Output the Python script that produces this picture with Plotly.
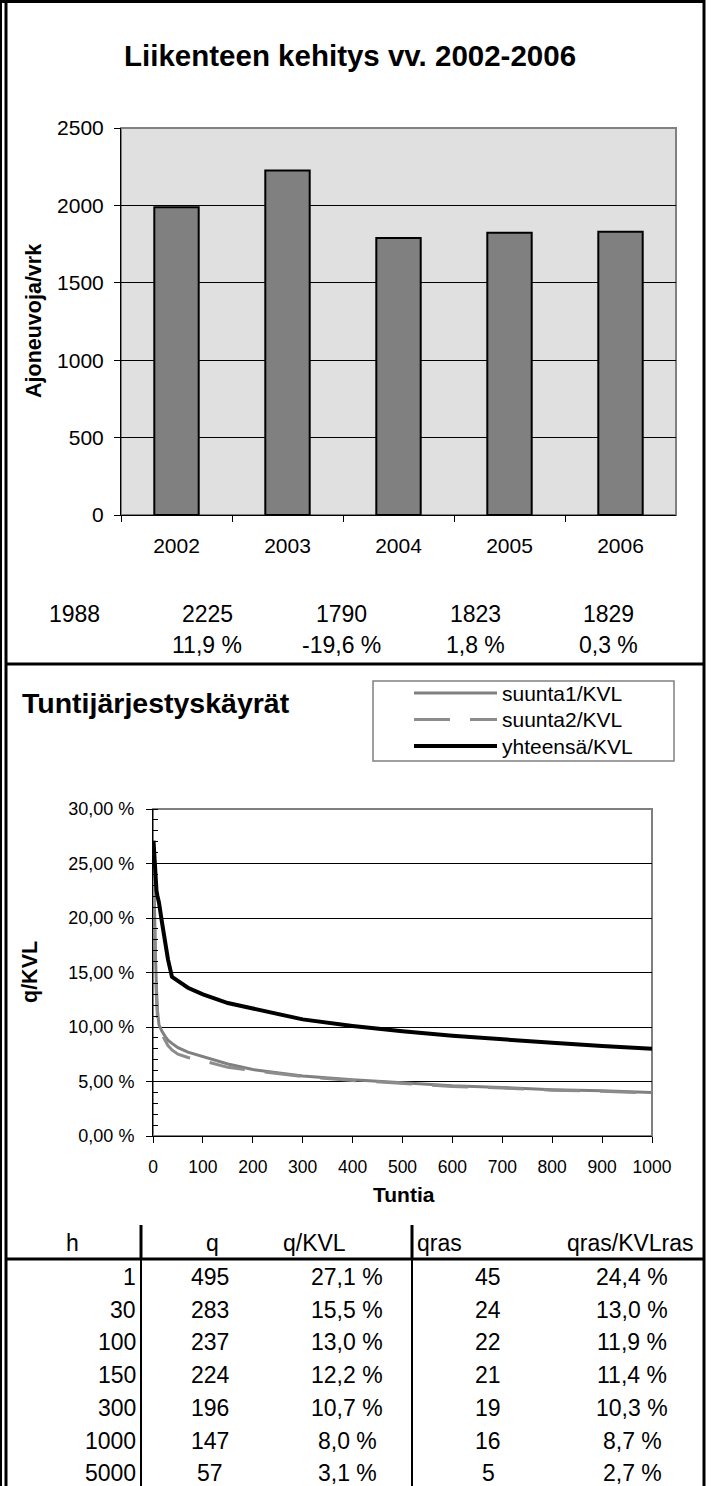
import plotly.graph_objects as go

W, H = 714, 1486
FONT = "Arial, Liberation Sans, sans-serif"

# traffic development 2002-2006 (vehicles / day)
years = ["2002", "2003", "2004", "2005", "2006"]
kvl = [1988, 2225, 1790, 1823, 1829]
kvl_change = ["11,9 %", "-19,6 %", "1,8 %", "0,3 %"]

# hour-order curves, share of KVL in percent
hours = [1, 2, 3, 5, 7, 9, 12, 18, 25, 30, 38, 50, 70, 100, 150, 200,
         300, 400, 500, 600, 700, 800, 900, 1000]
suunta1 = [25.5, 22.5, 20.0, 16.5, 13.5, 11.5, 10.2, 9.6, 9.1, 8.8, 8.5, 8.1,
           7.7, 7.3, 6.6, 6.1, 5.5, 5.15, 4.9, 4.6, 4.45, 4.25, 4.15, 4.0]
suunta2 = [24.4, 21.0, 18.5, 15.0, 12.5, 10.8, 9.8, 9.3, 8.7, 8.3, 7.9, 7.5,
           7.2, 6.9, 6.3, 6.0, 5.45, 5.1, 4.85, 4.55, 4.4, 4.2, 4.1, 3.95]
yhteensa = [27.1, 26.0, 25.0, 23.5, 22.5, 22.0, 21.4, 19.6, 17.6, 16.2, 14.6, 14.2,
            13.6, 13.0, 12.2, 11.7, 10.7, 10.1, 9.6, 9.2, 8.85, 8.55, 8.25, 8.0]
series_names = ["suunta1/KVL", "suunta2/KVL", "yhteensä/KVL"]

# table below the curves
tbl_header = ["h", "q", "q/KVL", "qras", "qras/KVLras"]
tbl_h = [1, 30, 100, 150, 300, 1000, 5000]
tbl_q = [495, 283, 237, 224, 196, 147, 57]
tbl_q_kvl = [27.1, 15.5, 13.0, 12.2, 10.7, 8.0, 3.1]
tbl_qras = [45, 24, 22, 21, 19, 16, 5]
tbl_qras_kvl = [24.4, 13.0, 11.9, 11.4, 10.3, 8.7, 2.7]


def px(x):
    return x / W


def py(y):
    return 1 - y / H


def pct(v):
    return f"{v:.1f}".replace(".", ",") + " %"


annotations = []


def text(x, y, s, size=23, bold=False, xanchor="center", angle=0):
    annotations.append(dict(
        x=px(x), y=py(y), xref="paper", yref="paper", text=f"<b>{s}</b>" if bold else s,
        showarrow=False, xanchor=xanchor, yanchor="middle", textangle=angle,
        font=dict(family=FONT, size=size, color="black"),
    ))


styles = [
    dict(color="#808080", width=3),
    dict(color="#8c8c8c", width=3, dash="36px,20px"),
    dict(color="black", width=4),
]

fig = go.Figure()
fig.add_trace(go.Bar(x=years, y=kvl, width=0.4, xaxis="x", yaxis="y",
                     marker=dict(color="#808080", line=dict(color="black", width=2))))
for name, vals, st in zip(series_names, [suunta1, suunta2, yhteensa], styles):
    fig.add_trace(go.Scatter(x=hours, y=vals, mode="lines", name=name, line=st,
                             xaxis="x2", yaxis="y2"))

# automargin off: the sheet is laid out in absolute pixels
axis_common = dict(showline=True, linecolor="black", linewidth=1, tickcolor="black",
                   ticks="outside", zeroline=False, fixedrange=True, automargin=False)

shapes = [
    # bar plot area and line plot area
    dict(type="rect", xref="x domain", yref="y domain", x0=0, x1=1, y0=0, y1=1,
         fillcolor="#e0e0e0", line=dict(color="#808080", width=2), layer="below"),
    dict(type="rect", xref="x2 domain", yref="y2 domain", x0=0, x1=1, y0=0, y1=1,
         fillcolor="white", line=dict(color="#808080", width=2), layer="below"),
]


def line(x0, y0, x1, y1, width=3, color="black", dash=None):
    shapes.append(dict(type="line", xref="paper", yref="paper",
                       x0=px(x0), y0=py(y0), x1=px(x1), y1=py(y1),
                       line=dict(color=color, width=width, dash=dash)))


# sheet frame and cell borders
line(0, 1.5, 705, 1.5)
line(1, 0, 1, H, width=2)
line(6, 0, 6, H)
line(704, 0, 704, H)
line(5, 664, 704, 664)
line(5, 1259, 704, 1259)
line(141, 1225, 141, 1259)
line(141, 1259, 141, H, width=2)
line(412, 1225, 412, 1259)
line(412, 1259, 412, H, width=2)

# legend box (drawn by hand to keep the long line samples)
shapes.append(dict(type="rect", xref="paper", yref="paper", x0=px(373), x1=px(674),
                   y0=py(761), y1=py(681), line=dict(color="#808080", width=1.5),
                   fillcolor="white"))
for i, (name, st) in enumerate(zip(series_names, styles)):
    yy = 693 + 26.5 * i
    line(414, yy, 497, yy, width=st["width"], color=st["color"], dash=st.get("dash"))
    text(500, yy, name, size=21, xanchor="left")

# titles
text(350, 56, "Liikenteen kehitys vv. 2002-2006", size=29.5, bold=True)
text(34, 321, "Ajoneuvoja/vrk", size=21.5, bold=True, angle=-90)
text(20, 703, "Tuntijärjestyskäyrät", size=28.5, bold=True, xanchor="left")
text(30, 972, "q/KVL", size=21.5, bold=True, angle=-90)
text(404, 1194, "Tuntia", size=21, bold=True)

# yearly values and changes under the bar chart
row_x = [74, 207, 341, 475, 608]
for xx, v in zip(row_x, kvl):
    text(xx, 614, str(v))
for xx, s in zip(row_x[1:], kvl_change):
    text(xx, 645, s)

# table
text(72, 1243, tbl_header[0])
text(212, 1243, tbl_header[1])
text(314, 1243, tbl_header[2])
text(415, 1243, tbl_header[3], xanchor="left")
text(630, 1243, tbl_header[4])
for i in range(len(tbl_h)):
    yy = 1277 + 32.7 * i
    text(138, yy, str(tbl_h[i]), xanchor="right")
    text(210, yy, str(tbl_q[i]))
    text(347, yy, pct(tbl_q_kvl[i]))
    text(488, yy, str(tbl_qras[i]))
    text(632, yy, pct(tbl_qras_kvl[i]))

fig.update_layout(
    width=W, height=H, margin=dict(l=0, r=0, t=0, b=0, pad=0, autoexpand=False),
    paper_bgcolor="white", plot_bgcolor="white",
    showlegend=False, separators=", ",
    font=dict(family=FONT, size=20, color="black"),
    xaxis=dict(axis_common, domain=[px(121), px(676)], type="category",
               tickson="boundaries", ticklen=6, showgrid=False,
               tickfont=dict(size=21), ticklabelstandoff=12, anchor="y"),
    yaxis=dict(axis_common, domain=[py(515), py(128)], range=[0, 2500], dtick=500,
               ticklen=6, showgrid=True, gridcolor="black", gridwidth=1,
               tickfont=dict(size=21), ticklabelstandoff=6, anchor="x"),
    xaxis2=dict(axis_common, domain=[px(153), px(652)], range=[0, 1000], dtick=100,
                ticklen=6, showgrid=False, tickfont=dict(size=17.5),
                ticklabelstandoff=9, anchor="y2"),
    yaxis2=dict(axis_common, domain=[py(1136), py(809)], range=[0, 30], dtick=5,
                tickformat=".2f", ticksuffix=" %", ticklen=6,
                showgrid=True, gridcolor="black", gridwidth=1,
                minor=dict(dtick=1, ticks="inside", ticklen=5, tickcolor="black", showgrid=False),
                tickfont=dict(size=18), ticklabelstandoff=8, anchor="x2"),
    shapes=shapes,
    annotations=annotations,
)

# the sheet starts at the very edge of the page
fig.write_html("out.html", config={"displayModeBar": False},
               post_script="document.body.style.margin = '0';")
